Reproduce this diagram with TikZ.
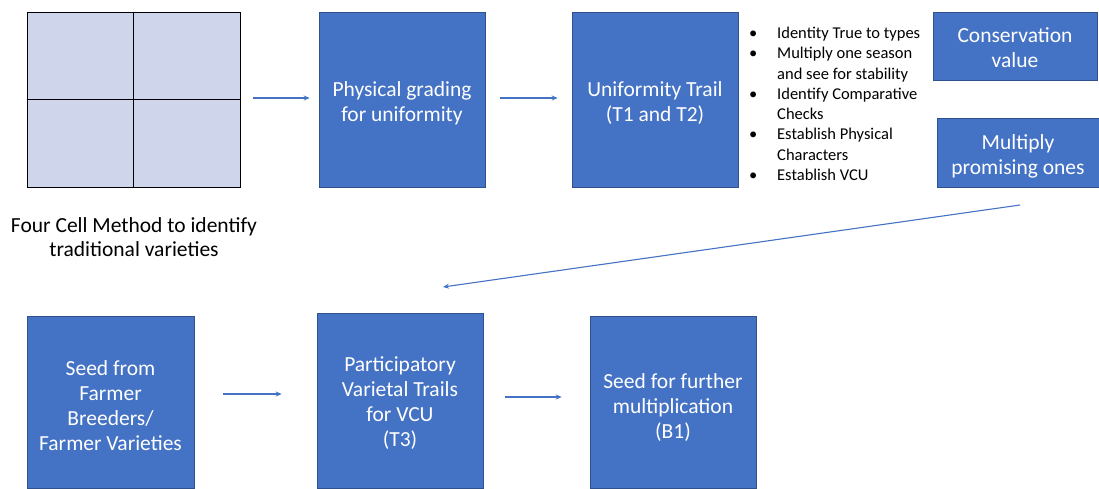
\documentclass[tikz,border=0pt]{standalone}
\usepackage{fontspec}
\setmainfont{Carlito}
\usetikzlibrary{arrows.meta,calc}
\definecolor{boxblue}{HTML}{4472C4}
\definecolor{boxedge}{HTML}{2F528F}
\definecolor{gridfill}{HTML}{CFD5EA}
\tikzset{
  bluebox/.style={rectangle, fill=boxblue, draw=boxedge, line width=0.6pt, inner sep=0pt},
  boxtext/.style={text=white, align=center, font=\fontsize{21.5}{25}\selectfont, inner sep=0pt},
  arr/.style={draw=boxblue, line width=1.1pt, -{Stealth[length=6pt,width=5pt]}},
}
\begin{document}
\begin{tikzpicture}[x=1pt,y=-1pt]
\useasboundingbox (0,0) rectangle (1099,488);
% four cell grid
\node[rectangle, fill=gridfill, draw=black, line width=1pt, minimum width=213pt, minimum height=175pt, inner sep=0pt] (grid) at (133.5,99.5) {};
\draw[line width=1pt] (grid.north) -- (grid.south);
\draw[line width=1pt] (grid.west) -- (grid.east);
\node[align=center, font=\fontsize{21.5}{24}\selectfont] (cap) at (134,237) {Four Cell Method to identify\\traditional varieties};
% top row
\node[bluebox, minimum width=166pt, minimum height=175pt] (phys) at (402,99.5) {};
\node[boxtext] (physT) at ([yshift=-4pt]phys.center) {Physical grading\\for uniformity};
\node[bluebox, minimum width=166pt, minimum height=175pt] (unif) at (655,99.5) {};
\node[boxtext] (unifT) at ([yshift=-4pt]unif.center) {Uniformity Trail\\(T1 and T2)};
\node[anchor=north west, inner sep=0pt, font=\fontsize{16.5}{20.3}\selectfont] (list) at (749,24) {%
\begin{tabular}{@{}p{28pt}@{}l@{}}
\textbullet & Identity True to types\\
\textbullet & Multiply one season\\
 & and see for stability\\
\textbullet & Identify Comparative\\
 & Checks\\
\textbullet & Establish Physical\\
 & Characters\\
\textbullet & Establish VCU
\end{tabular}};
\node[bluebox, minimum width=164pt, minimum height=68pt] (cons) at (1015,46) {};
\node[boxtext] (consT) at ([yshift=-2pt]cons.center) {Conservation\\value};
\node[bluebox, minimum width=162pt, minimum height=69pt] (mult) at (1018,152.5) {};
\node[boxtext] (multT) at ([yshift=-4pt]mult.center) {Multiply\\promising ones};
% bottom row
\node[bluebox, minimum width=167pt, minimum height=172pt] (seed) at (110.5,402) {};
\node[boxtext] (seedT) at ([yshift=-3.5pt]seed.center) {Seed from\\Farmer\\Breeders/\\Farmer Varieties};
\node[bluebox, minimum width=166pt, minimum height=175pt] (pvt) at (400,400.5) {};
\node[boxtext] (pvtT) at ([yshift=-3pt]pvt.center) {Participatory\\Varietal Trails\\for VCU\\(T3)};
\node[bluebox, minimum width=166pt, minimum height=172pt] (sfm) at (673,402) {};
\node[boxtext] (sfmT) at ([yshift=-6pt]sfm.center) {Seed for further\\multiplication\\(B1)};
% arrows
\draw[arr, shorten <=12pt, shorten >=9pt] ([yshift=1.5pt]grid.east) -- ([yshift=1.5pt]grid.east -| phys.west);
\draw[arr, shorten <=15pt, shorten >=14pt] ([yshift=1.5pt]phys.east) -- ([yshift=1.5pt]phys.east -| unif.west);
\coordinate (ls) at (1020,205);
\coordinate (le) at (443,287);
\draw[arr] (ls) -- (le);
\draw[arr, shorten <=29pt, shorten >=35pt] ([yshift=8pt]seed.east) -- ([yshift=8pt]seed.east -| pvt.west);
\draw[arr, shorten <=22pt, shorten >=28pt] ([yshift=3.5pt]pvt.east) -- ([yshift=3.5pt]pvt.east -| sfm.west);
\end{tikzpicture}
\end{document}
